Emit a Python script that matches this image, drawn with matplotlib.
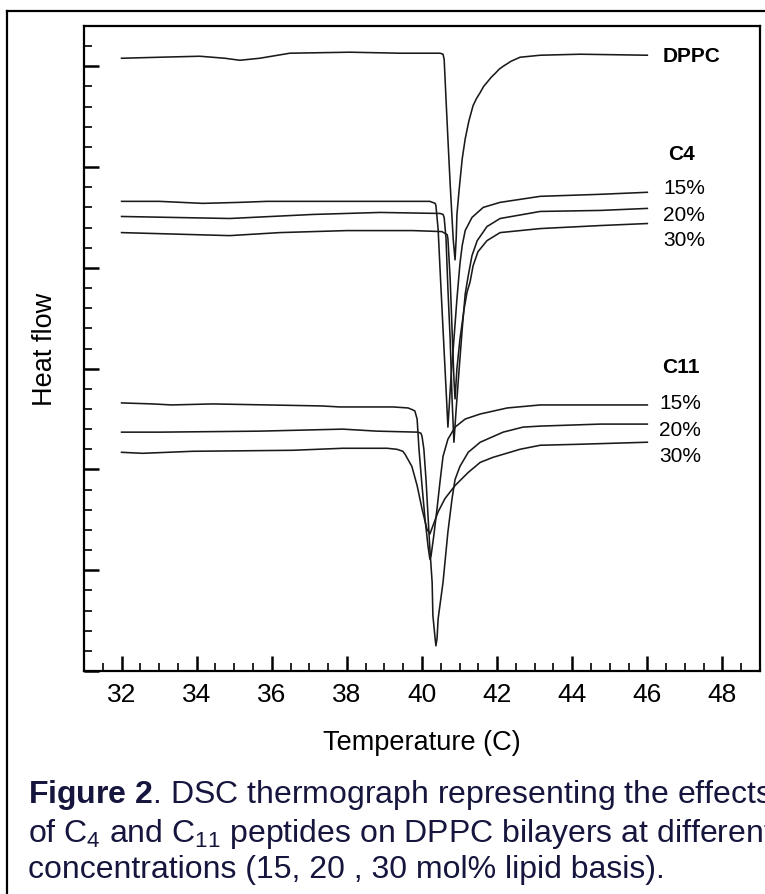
import matplotlib
matplotlib.use("Agg")
import matplotlib.pyplot as plt
from matplotlib.ticker import MultipleLocator, NullFormatter
from matplotlib.lines import Line2D

plt.rcParams['font.family'] = ['Liberation Sans', 'DejaVu Sans']
plt.rcParams['mathtext.fontset'] = 'custom'
plt.rcParams['mathtext.rm'] = 'Liberation Sans'
plt.rcParams['mathtext.bf'] = 'Liberation Sans:bold'
plt.rcParams['mathtext.it'] = 'Liberation Sans:italic'
plt.rcParams['mathtext.default'] = 'regular'

# thermograms (temperature in C, heat flow in arbitrary units)
dppc_t = [32.00, 33.01, 34.08, 34.75, 35.15, 35.68, 36.48, 38.08, 39.41, 40.48, 40.56,
          40.59, 40.64, 40.69, 40.75, 40.83, 40.88, 40.91, 40.93, 40.99, 41.07, 41.15,
          41.25, 41.36, 41.45, 41.55, 41.64, 41.73, 41.84, 41.95, 42.05, 42.16, 42.37,
          42.61, 42.88, 43.15, 44.21, 46.00]
dppc_h = [6.08, 6.09, 6.10, 6.08, 6.06, 6.08, 6.13, 6.14, 6.13, 6.13, 6.12,
          6.07, 5.67, 5.28, 4.83, 4.29, 4.08, 4.29, 4.53, 4.78, 5.08, 5.28,
          5.46, 5.61, 5.68, 5.74, 5.80, 5.84, 5.89, 5.93, 5.97, 6.00, 6.05,
          6.09, 6.10, 6.11, 6.12, 6.11]

c4_15_t = [32.00, 33.01, 34.16, 35.15, 35.87, 38.00, 40.21, 40.35, 40.37, 40.43, 40.48,
           40.56, 40.64, 40.69, 40.72, 40.77, 40.85, 40.93, 41.01, 41.07, 41.15, 41.33,
           41.63, 42.08, 43.15, 44.75, 46.00]
c4_15_h = [4.66, 4.66, 4.64, 4.65, 4.66, 4.66, 4.66, 4.64, 4.62, 4.38, 3.99,
           3.39, 2.80, 2.42, 2.60, 2.90, 3.29, 3.69, 4.04, 4.22, 4.37, 4.50,
           4.60, 4.65, 4.71, 4.73, 4.75]

c4_20_t = [32.00, 34.88, 37.09, 38.88, 40.48, 40.56, 40.59, 40.64, 40.69, 40.75, 40.80,
           40.85, 40.91, 40.99, 41.07, 41.15, 41.23, 41.33, 41.47, 41.73, 42.08, 43.15,
           44.75, 46.00]
c4_20_h = [4.51, 4.49, 4.53, 4.55, 4.54, 4.53, 4.50, 4.29, 3.79, 3.29, 2.70,
           2.27, 2.60, 3.00, 3.39, 3.74, 3.92, 4.12, 4.27, 4.41, 4.49, 4.56,
           4.57, 4.59]

c4_30_t = [32.00, 34.88, 36.21, 38.00, 39.76, 40.53, 40.67, 40.69, 40.75, 40.80, 40.85,
           40.88, 40.93, 41.01, 41.12, 41.20, 41.28, 41.36, 41.49, 41.73, 42.08, 43.15,
           44.75, 46.00]
c4_30_h = [4.35, 4.32, 4.35, 4.37, 4.37, 4.36, 4.33, 4.29, 3.89, 3.39, 2.90,
           2.70, 3.00, 3.29, 3.59, 3.76, 3.86, 4.02, 4.16, 4.27, 4.35, 4.39,
           4.42, 4.44]

c11_15_t = [32.00, 32.83, 33.33, 34.43, 37.33, 37.81, 39.23, 39.63, 39.76, 39.81, 39.87,
            39.92, 40.00, 40.08, 40.16, 40.21, 40.24, 40.32, 40.40, 40.48, 40.56, 40.69,
            40.88, 41.15, 41.55, 42.27, 43.15, 44.75, 46.00]
c11_15_h = [2.66, 2.65, 2.64, 2.65, 2.63, 2.62, 2.62, 2.61, 2.59, 2.58, 2.50,
            2.20, 1.84, 1.51, 1.24, 1.11, 1.14, 1.36, 1.61, 1.88, 2.13, 2.30,
            2.42, 2.50, 2.55, 2.61, 2.64, 2.64, 2.64]

c11_20_t = [32.00, 33.01, 35.68, 37.89, 38.80, 39.89, 39.97, 40.00, 40.05, 40.11, 40.16,
            40.21, 40.27, 40.29, 40.35, 40.37, 40.40, 40.43, 40.56, 40.69, 40.80, 40.88,
            41.01, 41.23, 41.55, 42.16, 42.69, 43.15, 44.75, 46.00]
c11_20_h = [2.37, 2.37, 2.38, 2.40, 2.38, 2.37, 2.36, 2.33, 2.20, 1.88, 1.54,
            1.21, 0.88, 0.55, 0.32, 0.25, 0.32, 0.52, 0.88, 1.38, 1.71, 1.90,
            2.03, 2.17, 2.27, 2.37, 2.42, 2.43, 2.45, 2.45]

c11_30_t = [32.00, 32.56, 33.89, 36.56, 37.89, 39.07, 39.33, 39.49, 39.55, 39.73, 39.87,
            40.00, 40.13, 40.21, 40.29, 40.43, 40.61, 40.88, 41.23, 41.55, 41.89, 42.61,
            43.15, 44.21, 46.00]
c11_30_h = [2.17, 2.16, 2.18, 2.19, 2.21, 2.21, 2.20, 2.18, 2.15, 2.03, 1.84,
            1.61, 1.41, 1.36, 1.44, 1.58, 1.71, 1.84, 1.97, 2.07, 2.12, 2.20,
            2.24, 2.25, 2.27]

fig = plt.figure(figsize=(7.65, 8.95), dpi=100)
ax = fig.add_axes([84/765, 1-672/895, 676/765, 645/895])

lc = '#1a1a1a'
for t, h in [(dppc_t, dppc_h), (c4_15_t, c4_15_h), (c4_20_t, c4_20_h), (c4_30_t, c4_30_h),
             (c11_15_t, c11_15_h), (c11_20_t, c11_20_h), (c11_30_t, c11_30_h)]:
    ax.plot(t, h, color=lc, lw=1.15, solid_joinstyle='round')

ax.set_xlim(31, 49)
ax.set_ylim(0, 6.4)
ax.xaxis.set_major_locator(MultipleLocator(2))
ax.xaxis.set_minor_locator(MultipleLocator(0.5))
ax.yaxis.set_major_locator(MultipleLocator(1))
ax.yaxis.set_minor_locator(MultipleLocator(0.2))
ax.yaxis.set_major_formatter(NullFormatter())
ax.tick_params(axis='both', which='major', direction='in', length=11, width=1.8)
ax.tick_params(axis='both', which='minor', direction='in', length=5.5, width=1.2)
ax.tick_params(axis='x', which='major', labelsize=19, pad=8)
for s in ax.spines.values():
    s.set_linewidth(1.6)

ax.set_xlabel('Temperature (C)', fontsize=19.5)
ax.xaxis.label.set_va('center')
ax.xaxis.set_label_coords(0.5, -(743-672)/645)
ax.set_ylabel('Heat flow', fontsize=19.5)
ax.yaxis.label.set_va('center')
ax.yaxis.set_label_coords(-(84-45)/676, 0.5)

# curve labels
ax.text(46.4, 6.11, 'DPPC', fontsize=15, fontweight='bold', va='center', ha='left')
ax.text(46.92, 5.13, 'C4', fontsize=15, fontweight='bold', va='center', ha='center')
for y, s in [(4.80, '15%'), (4.53, '20%'), (4.28, '30%')]:
    ax.text(46.43, y, s, fontsize=15, va='center', ha='left')
ax.text(46.4, 3.02, 'C11', fontsize=15, fontweight='bold', va='center', ha='left')
for y, s in [(2.66, '15%'), (2.40, '20%'), (2.14, '30%')]:
    ax.text(46.32, y, s, fontsize=15, va='center', ha='left')

# outer frame (runs off the right and bottom edges)
fig.add_artist(Line2D([7/765, 7/765], [-0.1, 1-12/895], transform=fig.transFigure, color='black', lw=1.6))
fig.add_artist(Line2D([7/765, 1.1], [1-12/895, 1-12/895], transform=fig.transFigure, color='black', lw=1.6))

cap = '#15153d'
fig.text(28/765, 1-803/895, r'$\mathbf{Figure\ 2}$. DSC thermograph representing the effects',
         fontsize=23, color=cap, va='baseline', ha='left')
fig.text(28/765, 1-842/895, r'of C$_4$ and C$_{11}$ peptides on DPPC bilayers at different',
         fontsize=23, color=cap, va='baseline', ha='left')
fig.text(28/765, 1-878/895, 'concentrations (15, 20 , 30 mol% lipid basis).',
         fontsize=23, color=cap, va='baseline', ha='left')

fig.savefig('out.png', dpi=100)
